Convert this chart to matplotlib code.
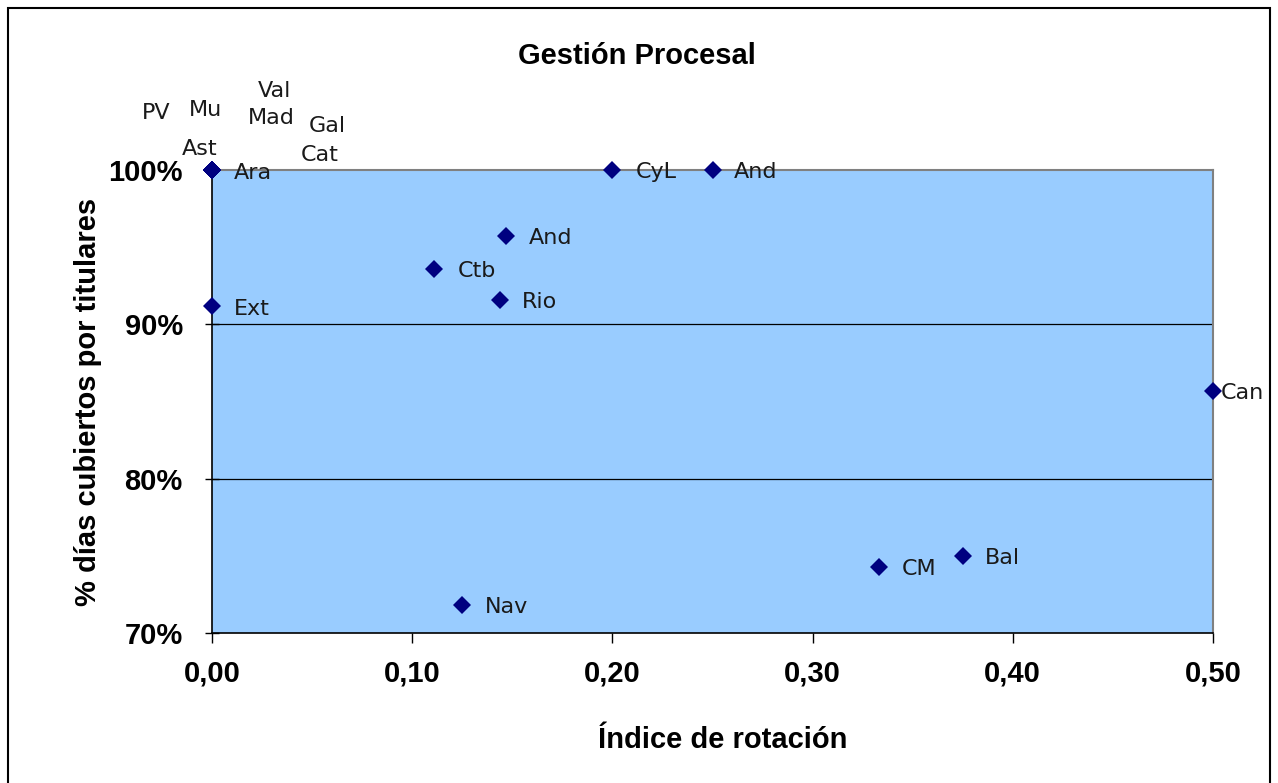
import matplotlib.pyplot as plt
from matplotlib.patches import Rectangle
from matplotlib.ticker import FuncFormatter

# data: índice de rotación vs % días cubiertos por titulares
labels = ['PV', 'Mu', 'Val', 'Mad', 'Gal', 'Cat', 'Ast', 'Ara',
          'CyL', 'And', 'And', 'Ctb', 'Rio', 'Ext', 'Can', 'Bal', 'CM', 'Nav']
rotacion = [0.0, 0.0, 0.0, 0.0, 0.0, 0.0, 0.0, 0.0,
            0.20, 0.25, 0.147, 0.111, 0.144, 0.0, 0.50, 0.375, 0.333, 0.125]
cubiertos = [1.0, 1.0, 1.0, 1.0, 1.0, 1.0, 1.0, 1.0,
             1.0, 1.0, 0.957, 0.936, 0.916, 0.912, 0.857, 0.750, 0.743, 0.718]

# label offsets (left edge, centre) in pixels, moved by hand in the original
offsets = [(-70, 57), (-23, 60), (46, 79), (36, 52), (97, 44), (89, 15), (-30, 21), (22, -3),
           (23, -2), (21, -2), (23, -2), (24, -2), (22, -2), (22, -3), (8, -2), (22, -2), (23, -2), (23, -2)]

W, H = 1278, 783
fig = plt.figure(figsize=(W / 100, H / 100), dpi=100)
ax = fig.add_axes([212 / W, 1 - 633 / H, (1213 - 212) / W, (633 - 170) / H])
ax.set_facecolor('#99CCFF')

ax.set_xlim(0, 0.5)
ax.set_ylim(0.7, 1.0)
ax.set_xticks([0, 0.1, 0.2, 0.3, 0.4, 0.5])
ax.set_yticks([0.7, 0.8, 0.9, 1.0])
for y in [0.8, 0.9]:
    ax.axhline(y, color='black', lw=0.9, zorder=1)

ax.plot(rotacion, cubiertos, linestyle='none', marker='D', markersize=9,
        markeredgewidth=0, color='#000080', clip_on=False, zorder=3)

for lab, x, y, (dx, dy) in zip(labels, rotacion, cubiertos, offsets):
    ax.annotate(lab, (x, y), xytext=(dx, dy), textcoords='offset pixels',
                ha='left', va='center', fontsize=16, family='DejaVu Sans',
                color='#1a1a1a', annotation_clip=False, zorder=4)

bold = dict(family='Liberation Sans', fontweight='bold', fontsize=21)
ax.xaxis.set_major_formatter(FuncFormatter(lambda v, p: f'{v:.2f}'.replace('.', ',')))
ax.yaxis.set_major_formatter(FuncFormatter(lambda v, p: f'{v * 100:.0f}%'))
for t in ax.get_xticklabels() + ax.get_yticklabels():
    t.set_fontproperties('Liberation Sans')
    t.set_fontweight('bold')
    t.set_fontsize(21)
ax.tick_params(axis='x', direction='out', length=7, width=1, pad=12)
ax.tick_params(axis='y', direction='inout', length=10, width=1, pad=16)

for s in ['top', 'right']:
    ax.spines[s].set_color('#808080')
    ax.spines[s].set_linewidth(1.5)
for s in ['left', 'bottom']:
    ax.spines[s].set_color('black')
    ax.spines[s].set_linewidth(1.2)

fig.text(637 / W, 1 - 56 / H, 'Gestión Procesal', ha='center', va='center', **bold)
fig.text(723 / W, 1 - 740 / H, 'Índice de rotación', ha='center', va='center', **bold)
fig.text(88 / W, 1 - 402 / H, '% días cubiertos por titulares', ha='center', va='center',
         rotation=90, **bold)

# outer chart frame
fig.patches.append(Rectangle((8 / W, -0.05), (1270 - 8) / W, 1.05 - 8 / H,
                             transform=fig.transFigure, fill=False,
                             edgecolor='black', lw=1.5))

fig.savefig('out.png', dpi=100)
